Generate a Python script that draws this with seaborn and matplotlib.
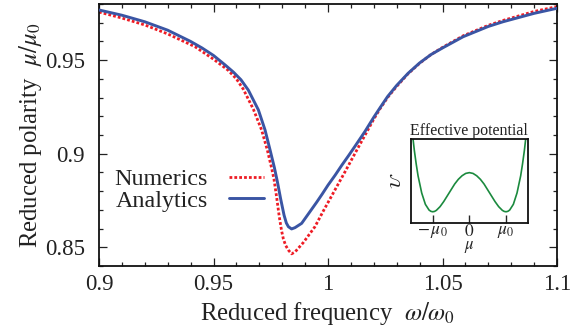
import matplotlib
matplotlib.use("Agg")
import pandas as pd
import matplotlib.pyplot as plt
from matplotlib.ticker import MultipleLocator, FuncFormatter
import seaborn as sns

# main panel: reduced frequency w/w0 vs reduced polarity mu/mu0
freq_ana = [0.900, 0.910, 0.920, 0.930, 0.940, 0.945, 0.950, 0.955, 0.9587, 0.962,
            0.9652, 0.9696, 0.9725, 0.9747, 0.9766, 0.9779, 0.9793, 0.9808, 0.9818,
            0.9827, 0.9841, 0.9856, 0.9885, 0.9921, 0.995, 0.9975, 1.000, 1.0031,
            1.006, 1.009, 1.0118, 1.0162, 1.020, 1.0227, 1.026, 1.030, 1.035, 1.040,
            1.045, 1.050, 1.059, 1.070, 1.0764, 1.090, 1.100]
pol_ana = [0.9768, 0.9740, 0.9705, 0.9660, 0.9600, 0.9565, 0.9525, 0.9475, 0.9436, 0.9395,
           0.9340, 0.9234, 0.9127, 0.9020, 0.8925, 0.8850, 0.8760, 0.8672, 0.8630,
           0.8610, 0.8598, 0.8605, 0.8628, 0.8690, 0.8740, 0.8785, 0.8832, 0.8885,
           0.8938, 0.8990, 0.9040, 0.9120, 0.9195, 0.9245, 0.9305, 0.9365, 0.9430, 0.9485,
           0.9530, 0.9565, 0.9625, 0.9680, 0.9705, 0.9750, 0.9777]

freq_num = [0.900, 0.910, 0.920, 0.930, 0.9419, 0.950, 0.9563, 0.960, 0.963, 0.9674,
            0.971, 0.9735, 0.9754, 0.9764, 0.9776, 0.9787, 0.9797, 0.9805, 0.9815,
            0.9827, 0.9841, 0.9856, 0.9892, 0.9943, 0.998, 1.0031, 1.0075, 1.0118,
            1.0162, 1.020, 1.0227, 1.026, 1.030, 1.035, 1.040, 1.045, 1.050, 1.059,
            1.070, 1.0764, 1.090, 1.100]
pol_num = [0.9757, 0.9725, 0.9688, 0.9640, 0.9572, 0.9505, 0.9447, 0.9400, 0.9345, 0.9238,
           0.9127, 0.9020, 0.8922, 0.8865, 0.8765, 0.8665, 0.8590, 0.8545, 0.8510,
           0.8485, 0.8465, 0.8475, 0.8525, 0.8610, 0.8695, 0.8808, 0.8905, 0.9002,
           0.9100, 0.9185, 0.9240, 0.9300, 0.9360, 0.9428, 0.9483, 0.9530, 0.9568,
           0.9630, 0.9686, 0.9712, 0.9760, 0.9786]

# inset: double-well effective potential (schematic, units of mu0)
mu_inset = [-1.55, -1.5, -1.45, -1.4, -1.3, -1.2, -1.1, -1.05, -1.0, -0.95, -0.9, -0.8,
            -0.7, -0.6, -0.5, -0.4, -0.3, -0.2, -0.1, 0.0, 0.1, 0.2, 0.3, 0.4, 0.5,
            0.6, 0.7, 0.8, 0.9, 0.95, 1.0, 1.05, 1.1, 1.2, 1.3, 1.4, 1.45, 1.5, 1.55]
pot_inset = [1.97, 1.56, 1.22, 0.92, 0.48, 0.19, 0.044, 0.011, 0.0, 0.009, 0.036, 0.13,
             0.26, 0.41, 0.56, 0.71, 0.83, 0.92, 0.98, 1.0, 0.98, 0.92, 0.83, 0.71, 0.56,
             0.41, 0.26, 0.13, 0.036, 0.009, 0.0, 0.011, 0.044, 0.19, 0.48, 0.92, 1.22,
             1.56, 1.97]

sns.set_theme(style="ticks")
plt.rcParams['font.family'] = ['Liberation Serif', 'DejaVu Serif']
plt.rcParams['mathtext.fontset'] = 'stix'
plt.rcParams['axes.linewidth'] = 1.3

RED = "#ee1c25"
BLUE = "#3a55a4"
GREEN = "#1b8a3e"
TXT = '#222222'

fig = plt.figure(figsize=(5.81, 3.33), dpi=100)
ax = fig.add_axes([0.1704, 0.2012, 0.7883, 0.7868])

df_num = pd.DataFrame({"w": freq_num, "mu": pol_num})
df_ana = pd.DataFrame({"w": freq_ana, "mu": pol_ana})
sns.lineplot(data=df_num, x="w", y="mu", ax=ax, color=RED, lw=2.0, estimator=None,
             linestyle=(0, (1, 0.75)), label="Numerics", zorder=2)
sns.lineplot(data=df_ana, x="w", y="mu", ax=ax, color=BLUE, lw=2.1, estimator=None,
             label="Analytics", zorder=3)

ax.set_xlim(0.9, 1.1)
ax.set_ylim(0.84, 0.98)
ax.xaxis.set_major_locator(MultipleLocator(0.05))
ax.xaxis.set_minor_locator(MultipleLocator(0.01))
ax.yaxis.set_major_locator(MultipleLocator(0.05))
ax.yaxis.set_minor_locator(MultipleLocator(0.01))
fmt = FuncFormatter(lambda v, p: f"{v:g}")
ax.xaxis.set_major_formatter(fmt)
ax.yaxis.set_major_formatter(fmt)
ax.tick_params(which='both', direction='in', top=True, right=True, width=0.9,
               colors='#222222', labelsize=16.5, labelcolor=TXT)
ax.tick_params(which='major', length=5.8)
ax.tick_params(which='minor', length=2.9)
ax.tick_params(axis='x', pad=6)
ax.tick_params(axis='y', pad=10)
for s in ax.spines.values():
    s.set_color('#111111')

ax.set_xlabel(r"Reduced frequency  $\omega/\omega_0$", fontsize=17.8, color=TXT, labelpad=3)
ax.set_ylabel(r"Reduced polarity  $\mu/\mu_0$", fontsize=17.8, color=TXT, labelpad=1)

ax.legend(loc='center left', bbox_to_anchor=(-0.014, 0.29), frameon=False, markerfirst=False,
          fontsize=17.3, handlelength=1.45, handletextpad=0.9, labelspacing=0.0,
          labelcolor=TXT)

# inset
ins = fig.add_axes([0.7069, 0.3312, 0.2019, 0.2514])
df_pot = pd.DataFrame({"mu": mu_inset, "U": pot_inset})
sns.lineplot(data=df_pot, x="mu", y="U", ax=ins, color=GREEN, lw=1.2, estimator=None)
ins.set_xlim(-1.6, 1.6)
ins.set_ylim(-0.28, 1.86)
ins.set_xticks([-1, 0, 1])
ins.set_xticklabels([r"$-\,\mu_0$", r"$0$", r"$\mu_0$"])
ins.set_yticks([])
ins.tick_params(axis='x', direction='in', length=5.5, width=1.0, pad=1, labelsize=12.5,
                labelcolor=TXT)
ins.set_xlabel(r"$\mu$", fontsize=12, labelpad=-1, color=TXT)
ins.set_ylabel(r"$\mathcal{U}$", fontsize=11, labelpad=5, color=TXT)
ins.set_title("Effective potential", fontsize=11.5, pad=3, color=TXT)
for s in ins.spines.values():
    s.set_color('#111111')
    s.set_linewidth(1.3)

fig.savefig("out.png", dpi=100)
